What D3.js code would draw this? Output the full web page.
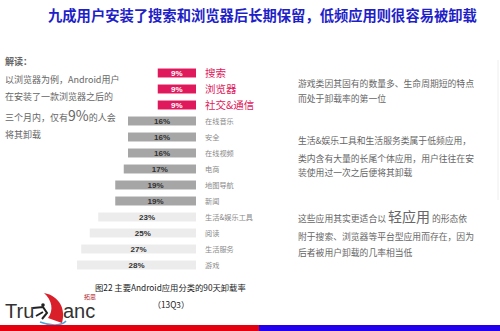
<!DOCTYPE html>
<html><head><meta charset="utf-8">
<script src="https://cdn.jsdelivr.net/npm/d3@7"></script>
<style>
body{margin:0;background:#fff;}
svg{display:block;font-family:"Noto Sans CJK SC","Noto Sans",sans-serif;}
</style></head>
<body><svg id="c" width="500" height="331"></svg>
<script>
const categories = ["搜索","浏览器","社交&通信","在线音乐","安全","在线视频","电商","地图导航","新闻","生活&娱乐工具","阅读","生活服务","游戏"];
const values = [9,9,9,16,16,16,17,19,19,23,25,27,28];
const title = "九成用户安装了搜索和浏览器后长期保留，低频应用则很容易被卸载";
const caption = ["图22 主要Android应用分类的90天卸载率","（13Q3）"];

const svg = d3.select("#c");
const barRight = 196;
const x = d3.scaleLinear().domain([0,28]).range([0,119]);
const y = d3.scaleBand().domain(categories).range([65,273]).paddingInner(0.44).paddingOuter(0.22);
const pink = "#e0195c";
const fill = v => v < 10 ? pink : (v < 20 ? "#a6a6a6" : "#ececec");

// title
svg.append("text").attr("x",48).attr("y",21).attr("font-size",14.3).attr("font-weight","bold")
  .attr("fill","#1f1fc8").text(title);

// bars
const rows = svg.append("g").selectAll("g").data(categories).join("g")
  .attr("transform", d => `translate(0,${y(d)})`);
rows.append("rect")
  .attr("x",(d,i)=>barRight - x(values[i])).attr("width",(d,i)=>x(values[i]))
  .attr("height",y.bandwidth()).attr("fill",(d,i)=>fill(values[i]));
rows.append("text")
  .attr("x",(d,i)=> barRight - x(values[i])/2).attr("y",y.bandwidth()/2+3)
  .attr("text-anchor","middle").attr("font-family","Liberation Sans, Arial, sans-serif")
  .attr("font-size",8).attr("font-weight","bold")
  .attr("fill",(d,i)=> values[i]<10 ? "#fff" : "#333")
  .text((d,i)=>values[i]+"%");
rows.append("text")
  .attr("x",205).attr("y",(d,i)=> y.bandwidth()/2 + (values[i]<10?4:2.5))
  .attr("font-size",(d,i)=> values[i]<10 ? 10.5 : 7.2)
  .attr("fill",(d,i)=> values[i]<10 ? pink : "#8a8a8a")
  .text(d=>d);

// left annotation
const lg = svg.append("g").attr("fill","#666").attr("font-size",9);
lg.append("text").attr("x",5).attr("y",65).attr("font-weight","bold").text("解读：");
lg.append("text").attr("x",5).attr("y",83).text("以浏览器为例，Android用户");
lg.append("text").attr("x",5).attr("y",100).text("在安装了一款浏览器之后的");
const t3 = lg.append("text").attr("x",5).attr("y",121);
t3.append("tspan").text("三个月内，仅有");
t3.append("tspan").attr("font-size",14).text("9%");
t3.append("tspan").text("的人会");
lg.append("text").attr("x",5).attr("y",138).text("将其卸载");

// right annotation
const rg = svg.append("g").attr("fill","#666").attr("font-size",8.8);
const rl = [
  ["游戏类因其固有的数量多、生命周期短的特点",87],
  ["而处于卸载率的第一位",102],
  ["生活&娱乐工具和生活服务类属于低频应用，",144],
  ["类内含有大量的长尾个体应用，用户往往在安",162],
  ["装使用过一次之后便将其卸载",176],
  ["附于搜索、浏览器等平台型应用而存在，因为",240],
  ["后者被用户卸载的几率相当低",256]
];
rl.forEach(l=> rg.append("text").attr("x",298).attr("y",l[1]).text(l[0]));
const rt = rg.append("text").attr("x",298).attr("y",222);
rt.append("tspan").text("这些应用其实更适合以 ");
rt.append("tspan").attr("font-size",14).text("轻应用");
rt.append("tspan").text(" 的形态依");
svg.append("line").attr("x1",498).attr("x2",498).attr("y1",60).attr("y2",200).attr("stroke","#eee");

// caption
svg.append("text").attr("x",95).attr("y",291).attr("font-size",8.3).attr("fill","#222").text(caption[0]);
svg.append("text").attr("x",171).attr("y",308).attr("font-size",8.3).attr("fill","#222").attr("text-anchor","middle").text(caption[1]);

// logo
const logo = svg.append("g");
logo.append("path").attr("d","M44,293 C60,296 66,310 62,323 L48,318 C54,310 52,300 44,293 Z").attr("fill","#d91f2a");
logo.append("path").attr("d","M40,322 C50,326 62,326 66,321").attr("stroke","#4aa3d9").attr("stroke-width",1.5).attr("fill","none");
logo.append("circle").attr("cx",43).attr("cy",305).attr("r",1.8).attr("fill","#222");
logo.append("path").attr("d","M33,308 L43,307 L47,313 L42,319 M43,312 L36,316").attr("stroke","#222").attr("stroke-width",2).attr("fill","none");
logo.append("text").attr("x",5).attr("y",318).attr("font-family","Liberation Sans, Arial, sans-serif").attr("font-size",20).attr("fill","#333").text("Tru");
logo.append("text").attr("x",63).attr("y",318).attr("font-family","Liberation Sans, Arial, sans-serif").attr("font-size",20).attr("fill","#333").text("anc");
logo.append("text").attr("x",84).attr("y",299).attr("font-size",6).attr("fill","#b0202a").text("拓思");

// bottom stripe
svg.append("rect").attr("x",0).attr("y",325).attr("width",259).attr("height",6).attr("fill","#e4000f");
svg.append("rect").attr("x",259).attr("y",325).attr("width",241).attr("height",6).attr("fill","#2200ee");
</script></body></html>
